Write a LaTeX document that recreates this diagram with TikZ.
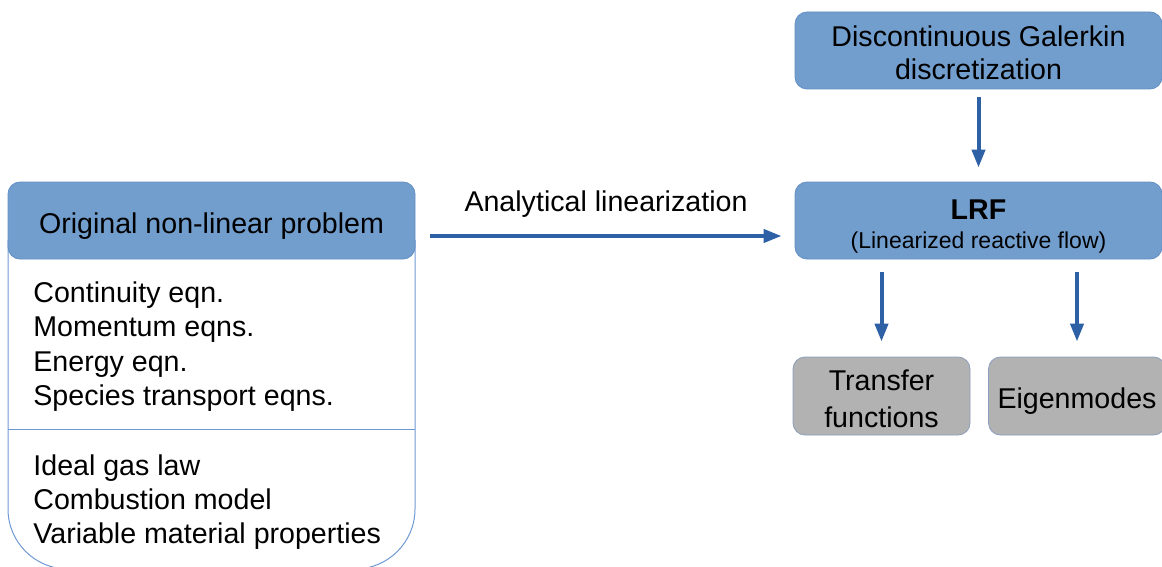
\documentclass[tikz,border=0pt]{standalone}
\usepackage{fontspec}
\setmainfont{Liberation Sans}
\usetikzlibrary{arrows.meta,positioning}
\definecolor{boxblue}{RGB}{114,158,206}
\definecolor{boxedge}{RGB}{98,142,196}
\definecolor{boxgray}{RGB}{178,178,178}
\definecolor{grayedge}{RGB}{140,158,188}
\definecolor{arrowblue}{RGB}{46,96,166}
\definecolor{frameblue}{RGB}{112,152,212}

\begin{document}
\begin{tikzpicture}[x=0.5pt, y=-0.5pt, every node/.style={font=\fontsize{14.3}{17.2}\selectfont}]
\tikzset{stage/.style={draw=boxedge, fill=boxblue, rounded corners=6pt, align=center,
  minimum width=183.5pt, minimum height=38.5pt, inner sep=0pt},
  result/.style={stage, draw=grayedge, fill=boxgray, minimum width=88.5pt, minimum height=39pt},
  flow/.style={draw=arrowblue, line width=2pt, -{Triangle[length=9pt,width=6.5pt]}},
  frame/.style={draw=frameblue, line width=0.5pt}}
\useasboundingbox (0,0) rectangle (1162,567);
\clip (0,0) rectangle (1162,567);
% left panel
\draw[frame, rounded corners=30pt] (8,240) -- (8,569) -- (415,569) -- (415,240);
\draw[frame] (8,429) -- (415,429);
\node[stage, minimum width=203.5pt] (orig) at (211.5,220.5) {\rule{0pt}{15.5pt}Original non-linear problem};
\foreach \txt [count=\i] in {Continuity eqn., Momentum eqns., Energy eqn., Species transport eqns.}
  \node[anchor=base west, inner sep=0pt] (eq\i) at (33,{302+34.5*(\i-1)}) {\txt};
\foreach \txt [count=\i] in {Ideal gas law, Combustion model, Variable material properties}
  \node[anchor=base west, inner sep=0pt] (law\i) at (33,{475+34*(\i-1)}) {\txt};
% right column
\node[stage] (dg) at (978.5,50.5) {\rule{0pt}{12.5pt}Discontinuous Galerkin\\[-0.7pt] discretization};
\node[stage] (lrf) at (978.5,220.5) {\rule{0pt}{15.5pt}\textbf{LRF}\\[-2.7pt]
  {\fontsize{11.5}{13.8}\selectfont (Linearized reactive flow)}};
\node[result] (tf) at (881.5,396) {\rule{0pt}{13.5pt}Transfer\\[1.3pt] functions};
\node[result] (eig) at (1077,396) {\rule{0pt}{15.5pt}Eigenmodes};
\draw[flow, shorten <=4pt, shorten >=7pt] (dg) -- (lrf);
\draw[flow, shorten <=6.5pt, shorten >=7.5pt] (lrf.south -| tf.north) -- (tf.north);
\draw[flow, shorten <=6.5pt, shorten >=7.5pt] (lrf.south -| eig.north) -- (eig.north);
\draw[flow] ([shift={(7.5pt,-7.75pt)}]orig.east) --
  node[above=8.5pt, inner sep=0pt] (lin) {Analytical linearization}
  ([shift={(-6.5pt,-7.75pt)}]lrf.west);
\end{tikzpicture}
\end{document}
